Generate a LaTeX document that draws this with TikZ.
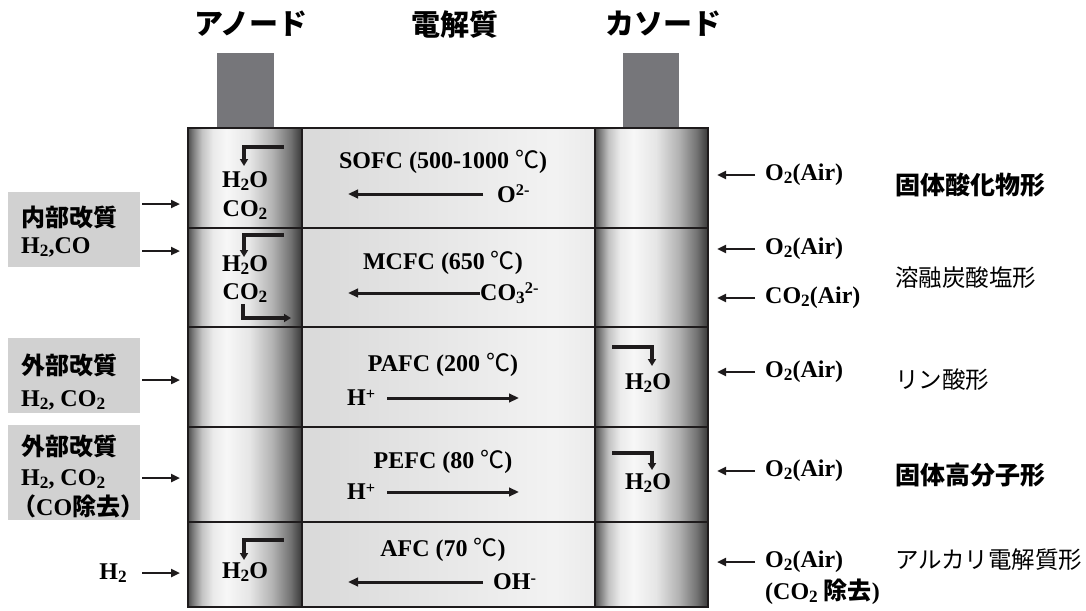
\documentclass[tikz,border=0pt]{standalone}
\usepackage{fontspec}
\usepackage{graphicx}
\setmainfont{Liberation Serif}
\newfontfamily\jp{Noto Sans CJK JP}
\usetikzlibrary{arrows.meta}
\definecolor{tabgray}{RGB}{118,118,122}
\definecolor{boxgray}{RGB}{209,209,209}
\definecolor{ink}{RGB}{30,27,28}
\definecolor{cyA}{gray}{0.30}
\definecolor{cyB}{gray}{0.47}
\definecolor{cyC}{gray}{0.76}
\definecolor{cyD}{gray}{0.92}
\definecolor{cyE}{gray}{0.97}
\definecolor{cyF}{gray}{0.90}
\definecolor{cyG}{gray}{0.70}
\definecolor{cyH}{gray}{0.45}
\definecolor{cyI}{gray}{0.22}
\definecolor{elA}{gray}{0.85}
\definecolor{elB}{gray}{0.95}
\definecolor{elC}{gray}{0.92}
\pgfdeclarehorizontalshading{cyl}{100bp}{color(0bp)=(cyA); color(25bp)=(cyA); color(27bp)=(cyB); color(31bp)=(cyC); color(36bp)=(cyD); color(42bp)=(cyE); color(52bp)=(cyF); color(62bp)=(cyG); color(70bp)=(cyH); color(75bp)=(cyI); color(100bp)=(cyI)}
\pgfdeclarehorizontalshading{elec}{100bp}{color(0bp)=(elA); color(25bp)=(elA); color(68bp)=(elB); color(75bp)=(elC); color(100bp)=(elC)}
\newcommand\dn[1]{\raisebox{-.28ex}{\scalebox{.72}{#1}}}
\newcommand\up[1]{\raisebox{.6ex}{\scalebox{.68}{#1}}}
\newcommand\dC{{\jp\mdseries ℃}}
\tikzset{
  txt/.style={inner sep=0pt, font=\bfseries\fontsize{24}{27}\selectfont, text=black},
  jtxt/.style={inner sep=0pt, font=\jp\fontsize{23.5}{26}\selectfont, text=black, anchor=west},
  jbold/.style={inner sep=0pt, font=\jp\bfseries\fontsize{25}{27}\selectfont, text=black, anchor=west},
  jleft/.style={inner sep=0pt, font=\jp\bfseries\fontsize{24}{26}\selectfont, text=black, anchor=west},
  head/.style={inner sep=0pt, font=\jp\bfseries\fontsize{29}{32}\selectfont, text=black},
  gbox/.style={fill=boxgray, draw=none, anchor=north west, inner sep=0pt, minimum width=132pt},
  arr/.style={draw=ink, line width=3pt, -{Triangle[length=10pt,width=8.5pt]}},
  sarr/.style={draw=ink, line width=2.7pt, -{Triangle[length=9pt,width=8pt]}},
  elb/.style={draw=ink, line width=3.2pt, -{Triangle[length=7pt,width=8pt]}},
  border/.style={draw=ink, line width=2pt}
}
\begin{document}
\begin{tikzpicture}[x=1pt,y=-1pt]
\useasboundingbox (0,0) rectangle (1086,610);
% tabs
\fill[tabgray] (217,53) rectangle (274,128);
\fill[tabgray] (623,53) rectangle (679,128);
% cells
\foreach \t/\b in {128/228,228/327,327/427,427/522,522/607}{
  \shade[shading=cyl] (188,\t) rectangle (302,\b);
  \shade[shading=elec] (302,\t) rectangle (595,\b);
  \shade[shading=cyl] (595,\t) rectangle (708,\b);
}
\draw[border] (188,128) rectangle (708,607);
\foreach \y in {228,327,427,522}{ \draw[border] (188,\y) -- (708,\y); }
\draw[border] (302,128) -- (302,607);
\draw[border] (595,128) -- (595,607);
% headers
\node[head] (hA) at (251,24) {アノード};
\node[head] (hE) at (455,25) {電解質};
\node[head] (hC) at (663,24) {カソード};
% left boxes
\node[gbox, minimum height=75pt] (b1) at (8,192) {};
\node[jleft] (b1a) at (21,217) {内部改質};
\node[txt, anchor=west] (b1b) at (21,247) {H\dn{2},CO};
\node[gbox, minimum height=75pt] (b2) at (8,338) {};
\node[jleft] (b2a) at (21,365) {外部改質};
\node[txt, anchor=west] (b2b) at (21,400) {H\dn{2}, CO\dn{2}};
\node[gbox, minimum height=95pt] (b3) at (8,425) {};
\node[jleft] (b3a) at (21,446) {外部改質};
\node[txt, anchor=west] (b3b) at (21,479) {H\dn{2}, CO\dn{2}};
\node[txt, anchor=west] (b3c) at (12,506) {{\jp （}CO{\jp 除去）}};
\node[txt] (h2l) at (113,573) {H\dn{2}};
% left arrows
\coordinate (l1s) at (142,204); \coordinate (l1e) at (180,204);
\coordinate (l2s) at (142,251); \coordinate (l2e) at (180,251);
\coordinate (l3s) at (142,380); \coordinate (l3e) at (180,380);
\coordinate (l4s) at (142,478); \coordinate (l4e) at (180,478);
\coordinate (l5s) at (142,573); \coordinate (l5e) at (180,573);
\foreach \i in {1,...,5}{ \draw[sarr] (l\i s) -- (l\i e); }
% anode contents
\node[txt] (a1h) at (245,181) {H\dn{2}O};
\node[txt] (a1c) at (245,210) {CO\dn{2}};
\coordinate (e1s) at (284,147); \coordinate (e1e) at (244,166);
\draw[elb] (e1s) -| (e1e);
\node[txt] (a2h) at (245,265) {H\dn{2}O};
\node[txt] (a2c) at (245,293) {CO\dn{2}};
\coordinate (e2s) at (284,235); \coordinate (e2e) at (244,257);
\draw[elb] (e2s) -| (e2e);
\coordinate (e3s) at (243,304); \coordinate (e3e) at (291,318);
\draw[elb] (e3s) |- (e3e);
\node[txt] (a5h) at (245,572) {H\dn{2}O};
\coordinate (e4s) at (284,540); \coordinate (e4e) at (244,560);
\draw[elb] (e4s) -| (e4e);
% cathode contents
\node[txt] (c3h) at (648,383) {H\dn{2}O};
\coordinate (e5s) at (612,347); \coordinate (e5e) at (652,366);
\draw[elb] (e5s) -| (e5e);
\node[txt] (c4h) at (648,483) {H\dn{2}O};
\coordinate (e6s) at (612,453); \coordinate (e6e) at (652,470);
\draw[elb] (e6s) -| (e6e);
% electrolyte contents
\node[txt] (sofc) at (443,162) {SOFC (500-1000 \dC)};
\node[txt, anchor=west] (o2m) at (497,194) {O\up{2-}};
\coordinate (x1s) at (483,194); \coordinate (x1e) at (348,194);
\draw[arr] (x1s) -- (x1e);
\node[txt] (mcfc) at (443,263) {MCFC (650 \dC)};
\node[txt, anchor=west] (co3) at (480,293) {CO\dn{3}\up{2-}};
\coordinate (x2e) at (348,293);
\draw[arr] (co3.west) -- (x2e);
\node[txt] (pafc) at (443,365) {PAFC (200 \dC)};
\node[txt, anchor=west] (hp1) at (347,398) {H\up{+}};
\coordinate (x3s) at (387,398); \coordinate (x3e) at (519,398);
\draw[arr] (x3s) -- (x3e);
\node[txt] (pefc) at (443,462) {PEFC (80 \dC)};
\node[txt, anchor=west] (hp2) at (347,492) {H\up{+}};
\coordinate (x4s) at (387,492); \coordinate (x4e) at (519,492);
\draw[arr] (x4s) -- (x4e);
\node[txt] (afc) at (443,550) {AFC (70 \dC)};
\node[txt, anchor=west] (ohm) at (493,582) {OH\up{-}};
\coordinate (x5s) at (483,582); \coordinate (x5e) at (348,582);
\draw[arr] (x5s) -- (x5e);
% right side
\node[txt, anchor=west] (r1) at (765,175) {O\dn{2}(Air)};
\node[txt, anchor=west] (r2) at (765,249) {O\dn{2}(Air)};
\node[txt, anchor=west] (r2b) at (765,298) {CO\dn{2}(Air)};
\node[txt, anchor=west] (r3) at (765,372) {O\dn{2}(Air)};
\node[txt, anchor=west] (r4) at (765,471) {O\dn{2}(Air)};
\node[txt, anchor=west] (r5) at (765,562) {O\dn{2}(Air)};
\node[txt, anchor=west] (r5b) at (765,592) {(CO\dn{2} {\jp 除去})};
\foreach \n/\y in {1/175,2/249,3/298,4/372,5/471,6/562}{
  \coordinate (rs\n) at (755,\y); \coordinate (re\n) at (717,\y);
  \draw[sarr] (rs\n) -- (re\n);
}
\node[jbold] (t1) at (895,185) {固体酸化物形};
\node[jtxt] (t2) at (895,278) {溶融炭酸塩形};
\node[jtxt] (t3) at (895,380) {リン酸形};
\node[jbold] (t4) at (895,475) {固体高分子形};
\node[jtxt] (t5) at (895,560) {アルカリ電解質形};
\end{tikzpicture}
\end{document}
